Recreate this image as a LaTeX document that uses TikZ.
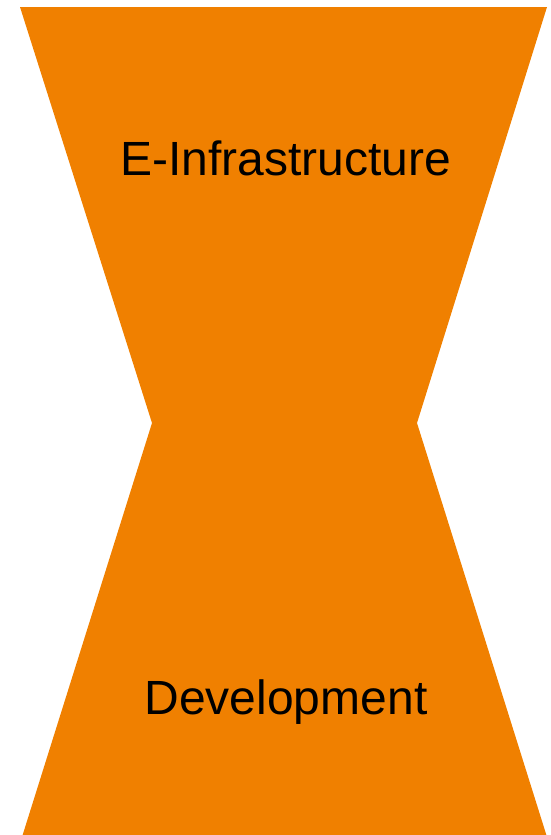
\documentclass[tikz,border=0pt]{standalone}
\usepackage{fontspec}
\setmainfont{Liberation Sans}
\definecolor{hourorange}{RGB}{240,128,0}
\begin{document}
\begin{tikzpicture}[x=1pt,y=-1pt,
  label text/.style={font=\fontsize{48}{56}\selectfont, text=black, anchor=base, inner sep=0pt}]
\useasboundingbox (0,0) rectangle (551,835);
\fill[hourorange] (20,7) -- (547,7) -- (417,423) -- (547,837) -- (22,837) -- (152,423) -- cycle;
\node[label text] (top) at (285.5,175) {E-Infrastructure};
\node[label text] (bottom) at (286,714) {Development};
\end{tikzpicture}
\end{document}
